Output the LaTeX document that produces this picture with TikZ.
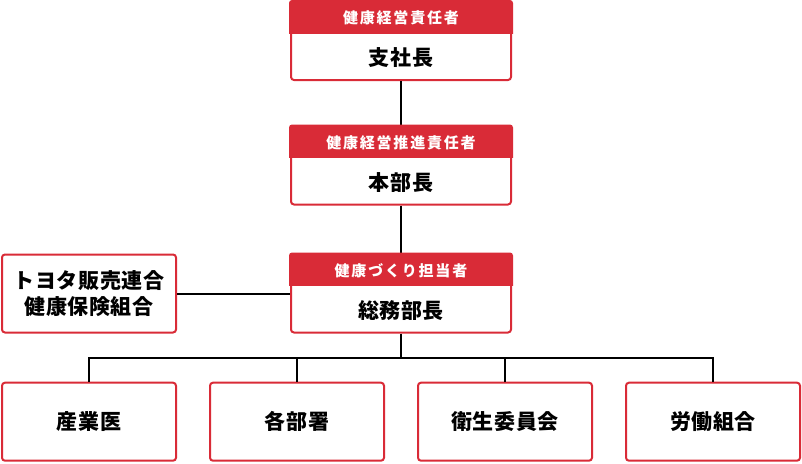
\documentclass[tikz,border=0pt]{standalone}
\usepackage{fontspec}
\setmainfont{Noto Sans CJK JP}
\newfontfamily\jphead{Noto Sans CJK JP}[LetterSpace=12]
\newfontfamily\jpbody{Noto Sans CJK JP}[LetterSpace=3]
\definecolor{brand}{HTML}{D92B37}
\begin{document}
\begin{tikzpicture}[x=1pt,y=-1pt,
  box/.style={draw=brand,line width=2pt,rounded corners=3pt,fill=white,
    minimum width=220pt,minimum height=78pt,inner sep=0pt},
  sbox/.style={box,minimum width=174pt},
  conn/.style={draw=black,line width=2pt},
  headtxt/.style={text=white,font=\jphead\bfseries\fontsize{15}{18}\selectfont},
  bodytxt/.style={text=black,font=\jpbody\bfseries\fontsize{21}{25.5}\selectfont,align=center}
]
\useasboundingbox (0,0) rectangle (802,463);
\coordinate (bus) at (401,357.5);
\node[box] (b1) at (401,41) {};
\node[box] (b2) at (401,165.5) {};
\node[box] (b3) at (401,293.5) {};
\node[sbox,bodytxt] (ins) at (89,293.5) {トヨタ販売連合\\健康保険組合};
\node[sbox,bodytxt] (q1) at (89,421.7) {産業医};
\node[sbox,bodytxt] (q2) at (297,421.7) {各部署};
\node[sbox,bodytxt] (q3) at (505,421.7) {衛生委員会};
\node[sbox,bodytxt] (q4) at (713,421.7) {労働組合};
\draw[conn] (b1.south) -- (b2.north);
\draw[conn] (b2.south) -- (b3.north);
\draw[conn] (ins.east) -- (b3.west);
\draw[conn] (b3.south) -- (bus);
\draw[conn] (q1.north) |- (bus);
\draw[conn] (q2.north) |- (bus);
\draw[conn] (q3.north) |- (bus);
\draw[conn] (q4.north) |- (bus);
\foreach \b in {b1,b2,b3}{
  \begin{scope}
    \clip ([xshift=-2pt,yshift=2pt]\b.north west) rectangle ([xshift=2pt,yshift=-32pt]\b.north east);
    \fill[brand,rounded corners=3pt] ([xshift=-1pt,yshift=1pt]\b.north west) rectangle ([xshift=1pt,yshift=-1pt]\b.south east);
  \end{scope}
}
\node[headtxt] (h1) at ([yshift=-17pt]b1.north) {健康経営責任者};
\node[headtxt] (h2) at ([yshift=-17pt]b2.north) {健康経営推進責任者};
\node[headtxt] (h3) at ([yshift=-17pt]b3.north) {健康づくり担当者};
\node[bodytxt] (t1) at ([yshift=23pt]b1.south) {支社長};
\node[bodytxt] (t2) at ([yshift=23pt]b2.south) {本部長};
\node[bodytxt] (t3) at ([yshift=23pt]b3.south) {総務部長};
\end{tikzpicture}
\end{document}
